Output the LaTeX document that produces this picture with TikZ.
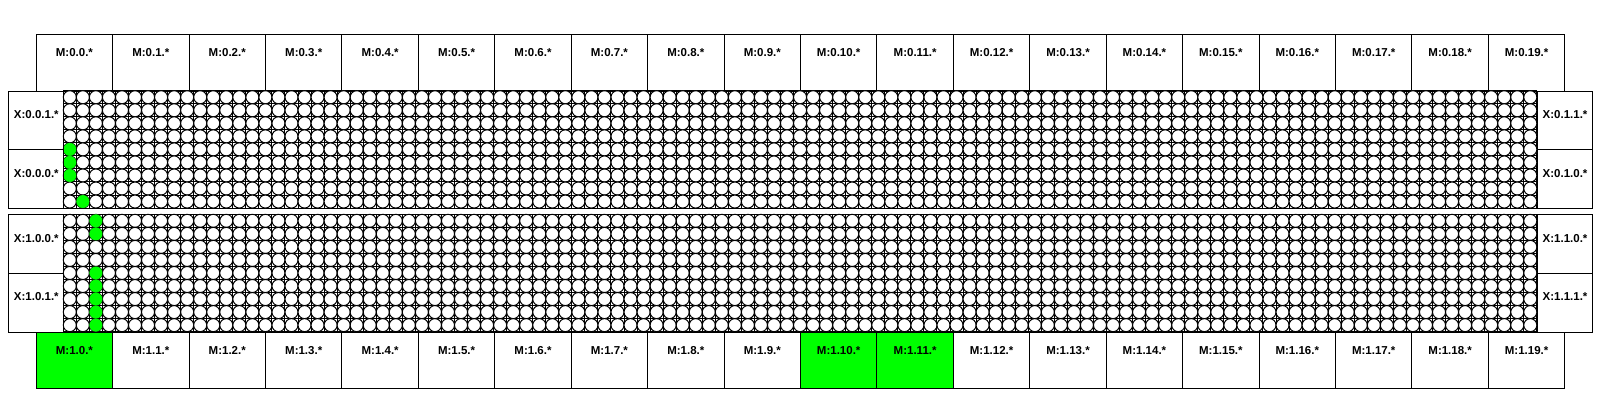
\documentclass[tikz,border=0pt]{standalone}
\usepackage{fontspec}
\setmainfont{Liberation Sans}
\definecolor{bgreen}{RGB}{0,255,0}
\begin{document}
\begin{tikzpicture}[x=1pt,y=-1pt,line width=1pt,
  lbl/.style={font=\bfseries\fontsize{11.5}{13.8}\selectfont},
  mbox/.style={lbl,draw=black,rectangle,inner sep=0pt,anchor=north west,
    minimum width=76.43pt,minimum height=56.7pt,text height=22.3pt,text depth=34.4pt},
  xbox/.style={lbl,draw=black,rectangle,inner sep=0pt,anchor=north west,
    minimum width=55pt,minimum height=58.68pt,text height=27.5pt,text depth=31.18pt},
  hot/.style={fill=bgreen},
  cold/.style={},
  cell/.style={draw=black,fill=white,line width=1pt},
  hotcell/.style={fill=bgreen,draw=bgreen,line width=0.5pt},
  gridline/.style={draw=black,line width=1pt}]
\useasboundingbox (0,0) rectangle (1600,400);
% top memory row
\foreach \i in {0,...,19}{
  \node[mbox] (mt\i) at ({35.7+\i*76.43},34) {M:0.\i.*};
}
% grid blocks
\foreach \Y in {90.7,214.3}{
  \foreach \c in {0,...,113}{
    \draw[gridline] ({63.3+\c*13.04},\Y) -- ++(0,117.36);
  }
  \foreach \r in {0,...,9}{
    \draw[gridline] (63.3,{\Y+\r*13.04}) -- ++(1473.52,0);
  }
  \foreach \c in {0,...,112}{
    \foreach \r in {0,...,8}{
      \path[cell] ({69.82+\c*13.04},{\Y+6.52+\r*13.04}) circle[radius=6.52];
    }
  }
}
% highlighted cells, top block
\foreach \c/\r in {0/4,0/5,0/6,1/8}{
  \path[hotcell] ({69.82+\c*13.04},{90.7+6.52+\r*13.04}) circle[radius=6.2];
}
% highlighted cells, bottom block
\foreach \c/\r in {2/0,2/1,2/4,2/5,2/6,2/7,2/8}{
  \path[hotcell] ({69.82+\c*13.04},{214.3+6.52+\r*13.04}) circle[radius=6.2];
}
% side boxes
\node[xbox] (x001) at (8.3,90.7) {X:0.0.1.*};
\node[xbox] (x000) at (8.3,149.38) {X:0.0.0.*};
\node[xbox,minimum width=55.5pt] (x011) at (1536.8,90.7) {X:0.1.1.*};
\node[xbox,minimum width=55.5pt] (x010) at (1536.8,149.38) {X:0.1.0.*};
\node[xbox] (x100) at (8.3,214.3) {X:1.0.0.*};
\node[xbox] (x101) at (8.3,272.98) {X:1.0.1.*};
\node[xbox,minimum width=55.5pt] (x110) at (1536.8,214.3) {X:1.1.0.*};
\node[xbox,minimum width=55.5pt] (x111) at (1536.8,272.98) {X:1.1.1.*};
% bottom memory row
\foreach \i in {0,...,19}{
  \ifnum\i=0 \def\fl{hot}\else\ifnum\i=10 \def\fl{hot}\else\ifnum\i=11 \def\fl{hot}\else\def\fl{cold}\fi\fi\fi
  \node[mbox,\fl] (mb\i) at ({35.7+\i*76.43},331.66) {M:1.\i.*};
}
\end{tikzpicture}
\end{document}
